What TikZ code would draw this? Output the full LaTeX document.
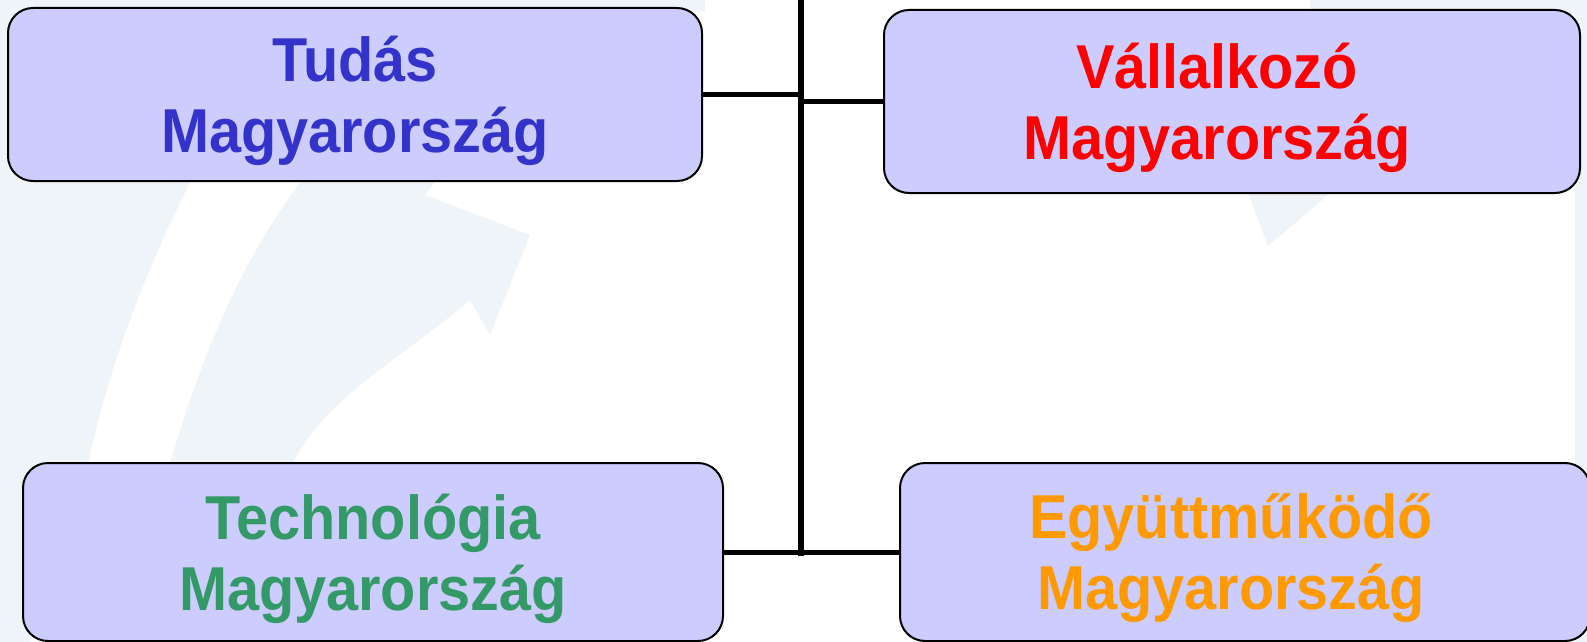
\documentclass[tikz,border=0pt]{standalone}
\usepackage{fontspec}
\setmainfont[FakeStretch=0.93]{Liberation Sans}
\begin{document}
\begin{tikzpicture}[x=1pt,y=-1pt,
  wm/.style={fill={rgb,255:red,239;green,244;blue,249}},
  box/.style={draw=black,line width=2pt,fill={rgb,255:red,204;green,204;blue,255},rounded corners=25pt,
    align=center,font=\fontsize{62}{71}\selectfont\bfseries,inner sep=0pt,text depth=0pt},
  link/.style={draw=black,line width=5pt}]
\definecolor{tblue}{RGB}{51,51,204}
\definecolor{tred}{RGB}{255,0,0}
\definecolor{tgreen}{RGB}{51,153,102}
\definecolor{torange}{RGB}{255,153,0}
\useasboundingbox (0,0) rectangle (1587,642);
\fill[white] (0,0) rectangle (1587,642);
% faint watermark arrows
\fill[wm] (0,0) rectangle (705,12);
\fill[wm] (0,0) -- (30,0) -- (30,642) -- (0,642) -- cycle;
\fill[wm] (0,175) -- (194,175) .. controls (140,280) and (105,380) .. (87,470) -- (0,470) -- cycle;
\fill[wm] (306,175) -- (440,175) -- (425,195) -- (530,235) -- (490,335) -- (470,300)
  .. controls (400,360) and (320,400) .. (290,470) -- (168,470) .. controls (200,360) and (240,260) .. (306,175) -- cycle;
\fill[wm] (1310,0) rectangle (1587,14);
\fill[wm] (1575,0) rectangle (1587,642);
\fill[wm] (1245,185) -- (1340,185) -- (1268,246) -- cycle;
% boxes
\node[box,minimum width=694pt,minimum height=173pt] (tudas) at (355,94.5) {\textcolor{tblue}{Tudás}\\\textcolor{tblue}{Magyarország}};
\node[box,minimum width=696pt,minimum height=183pt] (vall) at (1232,101.5) {\hspace*{-30pt}\textcolor{tred}{Vállalkozó}\\\hspace*{-30pt}\textcolor{tred}{Magyarország}};
\node[box,minimum width=700pt,minimum height=178pt] (tech) at (373,552) {\textcolor{tgreen}{Technológia}\\\textcolor{tgreen}{Magyarország}};
\node[box,minimum width=690pt,minimum height=178pt] (egy) at (1245,552) {\hspace*{-28pt}\textcolor{torange}{Együttműködő}\\\hspace*{-28pt}\textcolor{torange}{Magyarország}};
% connectors
\coordinate (spinetop) at (801,-5);
\coordinate (spinebot) at (801,556);
\draw[link,line width=5.5pt] (spinetop) -- (spinebot);
\draw[link] (tudas.east) -- (tudas.east -| spinetop);
\draw[link] (vall.west) -- (vall.west -| spinetop);
\draw[link] (tech.east) -- (tech.east -| spinetop);
\draw[link] (egy.west) -- (egy.west -| spinetop);
\end{tikzpicture}
\end{document}
